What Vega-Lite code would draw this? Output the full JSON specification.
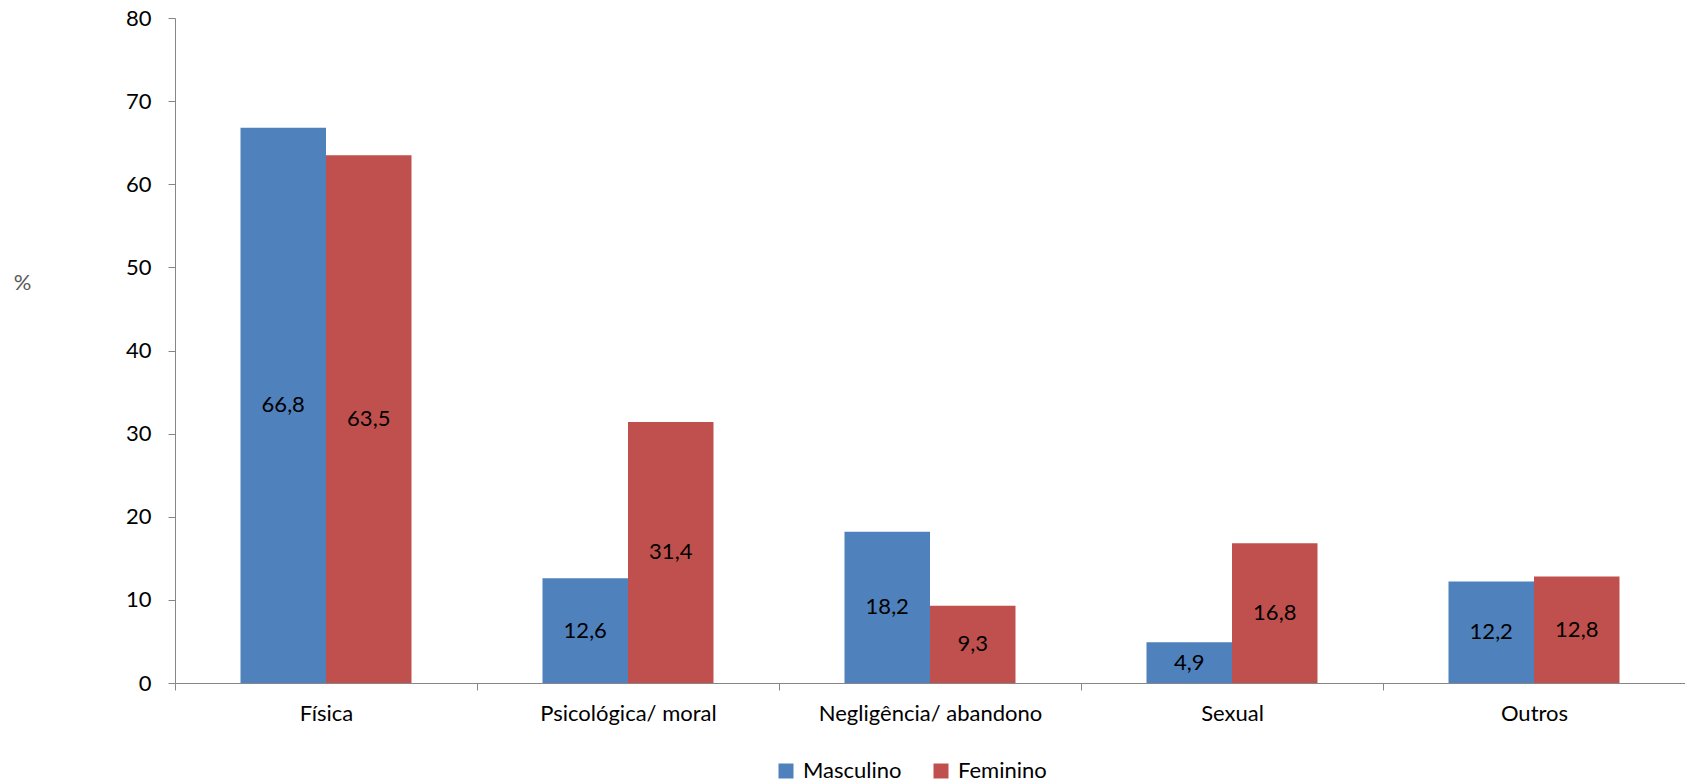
{
  "$schema": "https://vega.github.io/schema/vega-lite/v6.json",
  "autosize": {"type": "none"},
  "width": 1510,
  "height": 665,
  "padding": {"left": 175, "top": 18, "right": 0, "bottom": 101},
  "background": "#ffffff",
  "config": {
    "font": "Lato",
    "view": {"stroke": null},
    "locale": {
      "number": {"decimal": ",", "thousands": ".", "grouping": [3], "currency": ["R$", ""]}
    }
  },
  "data": {
    "values": [
      {"tipo": "Física", "sexo": "Masculino", "pct": 66.8},
      {"tipo": "Física", "sexo": "Feminino", "pct": 63.5},
      {"tipo": "Psicológica/ moral", "sexo": "Masculino", "pct": 12.6},
      {"tipo": "Psicológica/ moral", "sexo": "Feminino", "pct": 31.4},
      {"tipo": "Negligência/ abandono", "sexo": "Masculino", "pct": 18.2},
      {"tipo": "Negligência/ abandono", "sexo": "Feminino", "pct": 9.3},
      {"tipo": "Sexual", "sexo": "Masculino", "pct": 4.9},
      {"tipo": "Sexual", "sexo": "Feminino", "pct": 16.8},
      {"tipo": "Outros", "sexo": "Masculino", "pct": 12.2},
      {"tipo": "Outros", "sexo": "Feminino", "pct": 12.8}
    ]
  },
  "encoding": {
    "x": {
      "field": "tipo",
      "type": "nominal",
      "sort": null,
      "scale": {"paddingInner": 0, "paddingOuter": 0},
      "axis": {
        "title": null,
        "labelAngle": 0,
        "labelFontSize": 22,
        "labelColor": "#000000",
        "labelPadding": 13,
        "labelBaseline": "top",
        "labelLimit": 0,
        "tickBand": "extent",
        "tickSize": 7,
        "tickColor": "#868686",
        "domainColor": "#868686"
      }
    },
    "xOffset": {
      "field": "sexo",
      "type": "nominal",
      "sort": ["Masculino", "Feminino"],
      "scale": {"paddingInner": 0, "paddingOuter": 0.766}
    }
  },
  "layer": [
    {
      "mark": {"type": "bar"},
      "encoding": {
        "y": {
          "field": "pct",
          "type": "quantitative",
          "scale": {"domain": [0, 80], "nice": false},
          "axis": {
            "title": "%",
            "titleAngle": 0,
            "titleX": -153,
            "titleY": 264,
            "titleAlign": "center",
            "titleBaseline": "middle",
            "titleFontSize": 22,
            "titleFontWeight": "normal",
            "titleColor": "#595959",
            "values": [0, 10, 20, 30, 40, 50, 60, 70, 80],
            "grid": false,
            "labelFontSize": 22,
            "labelColor": "#000000",
            "labelPadding": 17,
            "tickSize": 7,
            "tickColor": "#868686",
            "domainColor": "#868686"
          }
        },
        "color": {
          "field": "sexo",
          "type": "nominal",
          "sort": ["Masculino", "Feminino"],
          "scale": {"domain": ["Masculino", "Feminino"], "range": ["#4F81BD", "#C0504D"]},
          "legend": {
            "title": null,
            "orient": "none",
            "direction": "horizontal",
            "legendX": 600,
            "legendY": 742,
            "symbolType": "square",
            "symbolSize": 225,
            "symbolStrokeWidth": 0,
            "labelFontSize": 22,
            "labelColor": "#000000",
            "labelOffset": 6,
            "columnPadding": 28
          }
        }
      }
    },
    {
      "mark": {"type": "text", "fontSize": 22, "color": "#000000", "baseline": "middle", "align": "center"},
      "encoding": {
        "y": {
          "field": "pct",
          "type": "quantitative",
          "scale": {"domain": [0, 160], "nice": false},
          "axis": null
        },
        "text": {"field": "pct", "type": "quantitative", "format": ".1f"}
      }
    }
  ],
  "resolve": {"scale": {"y": "independent"}}
}
